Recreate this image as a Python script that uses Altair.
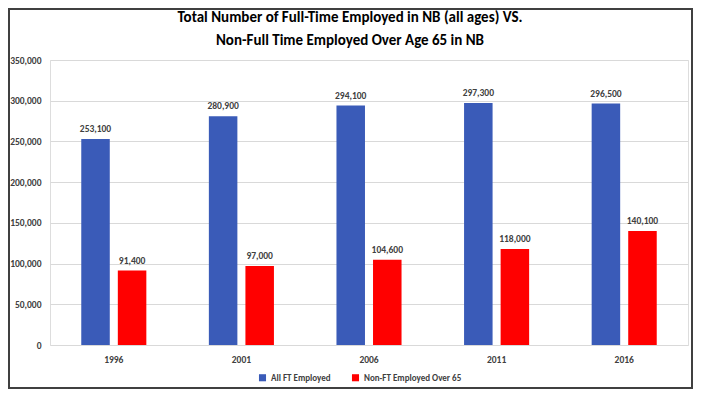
import altair as alt
import pandas as pd

years = ["1996", "2001", "2006", "2011", "2016"]
series_names = ["All FT Employed", "Non-FT Employed Over 65"]
ft_employed = [253100, 280900, 294100, 297300, 296500]
nonft_over65 = [91400, 97000, 104600, 118000, 140100]
colors = ["#3A5BB8", "#FF0000"]
title_lines = ["Total Number of Full-Time Employed in NB (all ages) VS.",
               "Non-Full Time Employed Over Age 65 in NB"]

rows = []
for i, y in enumerate(years):
    rows.append({"year": y, "series": series_names[0], "value": ft_employed[i]})
    rows.append({"year": y, "series": series_names[1], "value": nonft_over65[i]})
df = pd.DataFrame(rows)

FONT = "Carlito, 'Liberation Sans Narrow', 'Arial Narrow', 'Liberation Sans', sans-serif"

x_enc = alt.X("year:N", sort=years, title=None,
              scale=alt.Scale(paddingInner=0.49, paddingOuter=0.245),
              axis=alt.Axis(labelAngle=0, domain=False, ticks=False, labelPadding=9,
                            labelFontSize=9.5, labelFontWeight="bold", labelColor="#404040",
                            labelFont=FONT))
xoff_enc = alt.XOffset("series:N", sort=series_names,
                       scale=alt.Scale(paddingInner=0.22, paddingOuter=0))
y_enc = alt.Y("value:Q", title=None,
              scale=alt.Scale(domain=[0, 350000], nice=False),
              axis=alt.Axis(values=list(range(0, 350001, 50000)), format=",.0f",
                            domain=False, ticks=False, labelPadding=9,
                            labelFontSize=9.5, labelFontWeight="bold", labelColor="#404040",
                            labelFont=FONT, gridColor="#D9D9D9", gridWidth=1))
color_enc = alt.Color("series:N", sort=series_names,
                      scale=alt.Scale(domain=series_names, range=colors),
                      legend=alt.Legend(title=None, orient="none", direction="horizontal",
                                        legendX=208, legendY=313,
                                        symbolType="square", symbolSize=50,
                                        symbolStrokeWidth=0, columnPadding=20,
                                        labelFontSize=9, labelFontWeight="bold",
                                        labelColor="#404040", labelFont=FONT))

base = alt.Chart(df).encode(x=x_enc, xOffset=xoff_enc, y=y_enc)

bars = base.mark_bar().encode(color=color_enc)
labels = base.mark_text(baseline="bottom", dy=-5, fontSize=9.5, fontWeight="bold",
                        color="#404040", font=FONT).encode(
    text=alt.Text("value:Q", format=",.0f"))

title_df = pd.DataFrame({"line": title_lines, "i": [0, 1]})
title1 = alt.Chart(title_df).transform_filter("datum.i == 0").mark_text(
    fontSize=15, fontWeight="bold", color="#000000", font=FONT, baseline="middle").encode(
    text="line:N", x=alt.value(300), y=alt.value(-43))
title2 = alt.Chart(title_df).transform_filter("datum.i == 1").mark_text(
    fontSize=15, fontWeight="bold", color="#000000", font=FONT, baseline="middle").encode(
    text="line:N", x=alt.value(300), y=alt.value(-20))

frame = alt.Chart(pd.DataFrame({"a": [0]})).mark_rect(
    fill=None, stroke="#404040", strokeWidth=2).encode(
    x=alt.value(-41), x2=alt.value(642), y=alt.value(-51), y2=alt.value(328))

chart = alt.layer(bars, labels, title1, title2, frame).properties(
    width=638, height=285,
    autosize=alt.AutoSizeParams(type="none"),
    padding={"left": 42, "top": 52, "right": 5, "bottom": 44},
).configure_view(stroke=None).configure(background="white")

chart.save("out.html", embed_options={"renderer": "svg", "actions": False})
